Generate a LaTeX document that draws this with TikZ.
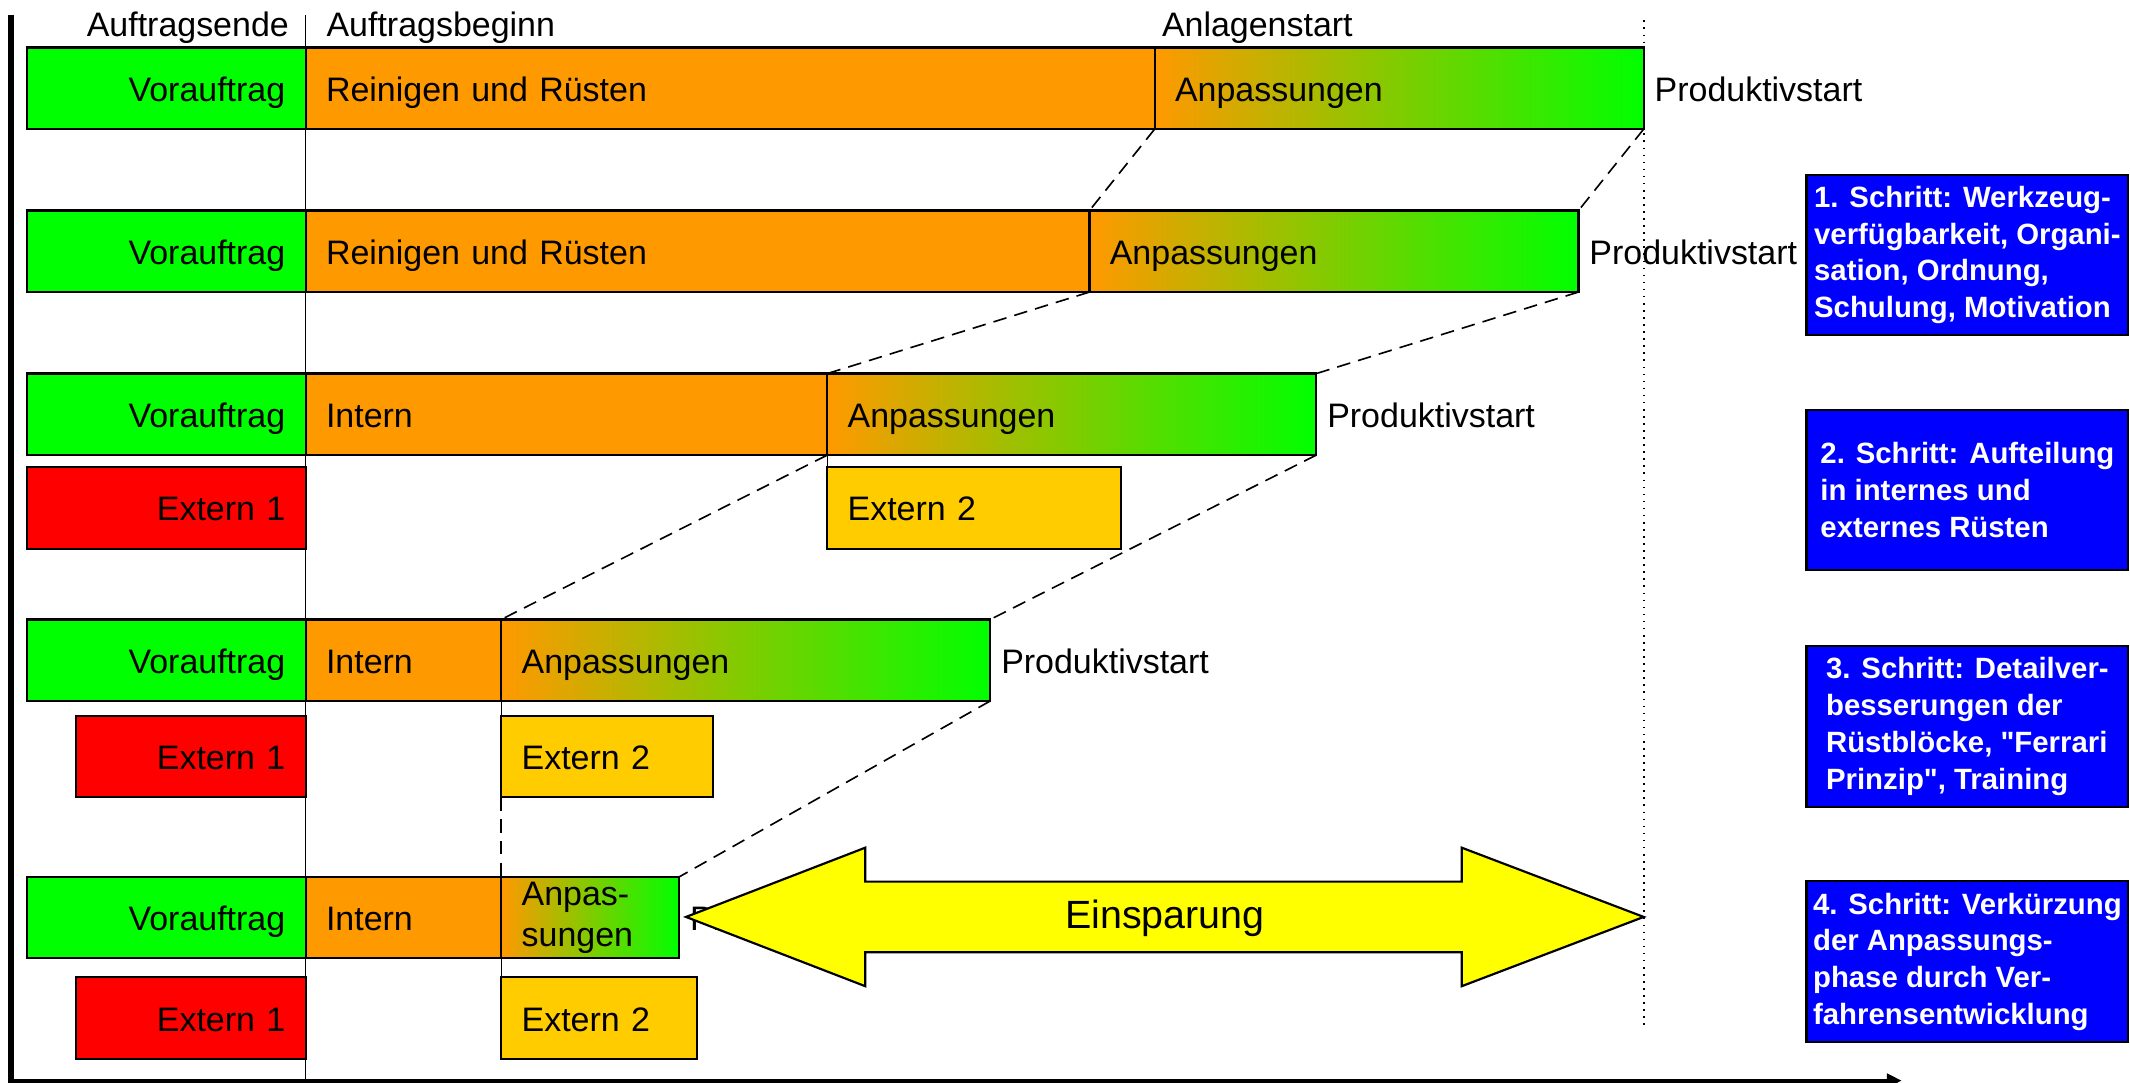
\documentclass[tikz,border=0pt]{standalone}
\usepackage{fontspec}
\setmainfont{Liberation Sans}
\newfontfamily\schrittfont{Liberation Sans}
\usetikzlibrary{positioning,arrows.meta}

\definecolor{vgruen}{HTML}{00FF00}
\definecolor{rorange}{HTML}{FF9900}
\definecolor{amitte}{HTML}{C8CC00}
\definecolor{erot}{HTML}{FF0000}
\definecolor{egelb}{HTML}{FFCC00}
\definecolor{sblau}{HTML}{0000FF}
\definecolor{pgelb}{HTML}{FFFF00}

\tikzset{
  lbl/.style={font=\fontsize{12.5}{15}\selectfont},
  einz/.style={text height=9.5pt, text depth=0pt},
  bar/.style={lbl, draw, line width=0.8pt, minimum height=30pt, inner xsep=7.5pt, inner ysep=0pt, outer sep=0pt, anchor=north west},
  anpfarbe/.style={left color=rorange, middle color=amitte, right color=vgruen},
  vor/.style={bar, einz, fill=vgruen, align=right},
  ruest/.style={bar, einz, fill=rorange, align=left},
  anp/.style={bar, einz, anpfarbe, align=left},
  ext1/.style={bar, einz, fill=erot, align=right},
  ext2/.style={bar, einz, fill=egelb, align=left},
  schritt/.style={draw, line width=0.8pt, fill=sblau, text=white, font=\schrittfont\bfseries\fontsize{10.8}{13.5}\selectfont, align=left, minimum width=118.5pt, minimum height=59pt, inner sep=0pt, anchor=north west},
  verbind/.style={dash pattern=on 5pt off 3pt, line width=0.6pt},
}

\begin{document}
\begin{tikzpicture}[x=0.5pt,y=-0.5pt]
    \useasboundingbox (0,0) rectangle (1568,797);

    % Zeitachsen
    \coordinate (yende) at (8,11);
    \coordinate (ursprung) at (8,795.5);
    \coordinate (xende) at (1400,795.5);
    \draw[line width=2.2pt] (yende) -- (8,797);
    \draw[line width=1.5pt, -{Triangle[length=5.5pt,width=5pt]}] (ursprung) -- (xende);
    \coordinate (grenzeo) at (225,11);
    \coordinate (grenzeu) at (225,797);
    \draw[line width=0.5pt] (grenzeo) -- (grenzeu);
    \coordinate (endeo) at (1210,15);
    \coordinate (endeu) at (1210,755);
    \draw[dotted, line width=0.6pt] (endeo) -- (endeu);

    % Ausgangszustand
    \node[vor, text width=87.5pt] (v1) at (20,35) {Vorauftrag};
    \node[ruest, text width=297.5pt, right=0pt of v1] (r1) {Reinigen und Rüsten};
    \node[anp, text width=165pt, right=0pt of r1] (a1) {Anpassungen};
    \node[lbl, einz, right=0.5pt of a1] (p1) {Produktivstart};
    \node[lbl, anchor=base east, inner sep=0pt] (ende) at ([xshift=-6pt,yshift=4pt]v1.north east) {Auftragsende};
    \node[lbl, anchor=base west, inner sep=0pt] (beginn) at ([xshift=7.5pt,yshift=4pt]r1.north west) {Auftragsbeginn};
    \node[lbl, anchor=base west, inner sep=0pt] (anlage) at ([xshift=2.5pt,yshift=4pt]a1.north west) {Anlagenstart};

    % 1. Schritt
    \node[vor, text width=87.5pt] (v2) at (20,155) {Vorauftrag};
    \node[ruest, text width=273.5pt, right=0pt of v2] (r2) {Reinigen und Rüsten};
    \node[anp, text width=165pt, right=0pt of r2] (a2) {Anpassungen};
    \node[lbl, einz, right=0.5pt of a2] (p2) {Produktivstart};

    % 2. Schritt
    \node[vor, text width=87.5pt] (v3) at (20,275) {Vorauftrag};
    \node[ruest, text width=177pt, right=0pt of v3] (i3) {Intern};
    \node[anp, text width=165pt, right=0pt of i3] (a3) {Anpassungen};
    \node[lbl, einz, right=0.5pt of a3] (p3) {Produktivstart};
    \node[ext1, text width=87.5pt] (e13) at ([yshift=-4.5pt]v3.south west) {Extern 1};
    \node[ext2, text width=93pt] (e23) at ([yshift=-4.5pt]a3.south west) {Extern 2};

    % 3. Schritt
    \node[vor, text width=87.5pt] (v4) at (20,456) {Vorauftrag};
    \node[ruest, text width=57pt, right=0pt of v4] (i4) {Intern};
    \node[anp, text width=165pt, right=0pt of i4] (a4) {Anpassungen};
    \node[lbl, einz, right=0.5pt of a4] (p4) {Produktivstart};
    \node[ext1, text width=69.5pt, anchor=north east] (e14) at ([yshift=-5.5pt]v4.south east) {Extern 1};
    \node[ext2, text width=63pt] (e24) at ([yshift=-5.5pt]a4.south west) {Extern 2};

    % 4. Schritt
    \node[vor, text width=87.5pt] (v5) at (20,645.5) {Vorauftrag};
    \node[ruest, text width=57pt, right=0pt of v5] (i5) {Intern};
    \node[bar, anpfarbe, align=left, text width=50.5pt, right=0pt of i5] (a5) {Anpas-\\sungen};
    \node[lbl, einz, right=0.5pt of a5] (p5) {Produktivstart};
    \node[ext1, text width=69.5pt, anchor=north east] (e15) at ([yshift=-7pt]v5.south east) {Extern 1};
    \node[ext2, text width=57pt] (e25) at ([yshift=-7pt]a5.south west) {Extern 2};

    % Verschiebungen
    \draw[verbind] (a1.south west) -- (a2.north west);
    \draw[verbind] (a1.south east) -- (a2.north east);
    \draw[verbind] (a2.south west) -- (a3.north west);
    \draw[verbind] (a2.south east) -- (a3.north east);
    \draw[verbind] (a3.south west) -- (a4.north west);
    \draw[verbind] (a3.south east) -- (a4.north east);
    \draw[verbind] (e24.south west) -- (a5.north west);
    \draw[verbind] (a4.south east) -- (a5.north east);
    \draw[line width=0.5pt] (a3.south west) -- (e23.north west);
    \draw[line width=0.5pt] (a4.south west) -- (e24.north west);
    \draw[line width=0.5pt] (a5.south west) -- (e25.north west);

    % Einsparung
    \draw[line width=0.8pt, fill=pgelb] (505,675) -- (637,624) -- (637,649) -- (1076,649)
        -- (1076,624) -- (1210,675) -- (1076,726) -- (1076,701) -- (637,701) -- (637,726) -- cycle;
    \node[font=\fontsize{14.5}{17}\selectfont] (spar) at (857.5,676) {Einsparung};

    % Schritte
    \node[schritt] (s1) at (1329,128) {1. Schritt: Werkzeug-\\verfügbarkeit, Organi-\\sation, Ordnung,\\Schulung, Motivation};
    \node[schritt] (s2) at (1329,301) {2. Schritt: Aufteilung\\in internes und\\externes Rüsten};
    \node[schritt] (s3) at (1329,475) {3. Schritt: Detailver-\\besserungen der\\Rüstblöcke, "Ferrari\\Prinzip", Training};
    \node[schritt] (s4) at (1329,648) {4. Schritt: Verkürzung\\der Anpassungs-\\phase durch Ver-\\fahrensentwicklung};
\end{tikzpicture}
\end{document}
